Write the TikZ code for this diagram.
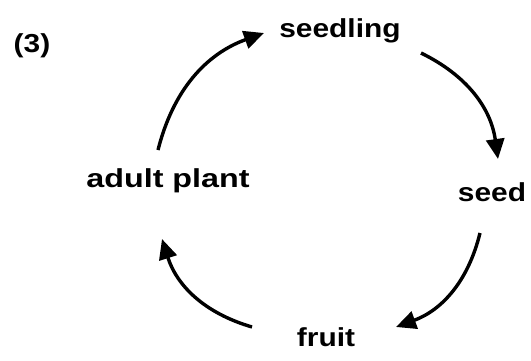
\documentclass[tikz,border=0pt]{standalone}
\usepackage{fontspec}
\setmainfont{Liberation Sans}
\usetikzlibrary{arrows.meta}
\tikzset{
  stage/.style={font=\fontsize{26}{30}\selectfont\bfseries, xscale=1.15, inner sep=0pt, anchor=base},
  cycle/.style={line width=3.4pt, -{Triangle[length=20pt,width=18pt]}, bend left=28}
}
\begin{document}
\begin{tikzpicture}[x=1pt,y=1pt]
\useasboundingbox (0,0) rectangle (531,360);
\node[stage] (label) at (32,308) {(3)};
\node[stage] (seedling) at (340,323) {seedling};
\node[stage] (seed) at (492,159) {seed};
\node[stage] (fruit) at (326,14) {fruit};
\node[stage, xscale=1.08] (adult) at (168,173) {adult plant};
\coordinate (a1) at (158,210);
\coordinate (b1) at (264,327);
\coordinate (a2) at (421,307);
\coordinate (b2) at (498,201);
\coordinate (a3) at (480,127);
\coordinate (b3) at (396,33);
\coordinate (a4) at (252,33);
\coordinate (b4) at (162,121);
\draw[cycle] (a1) to (b1);
\draw[cycle] (a2) to (b2);
\draw[cycle] (a3) to (b3);
\draw[cycle] (a4) to (b4);
\end{tikzpicture}
\end{document}
